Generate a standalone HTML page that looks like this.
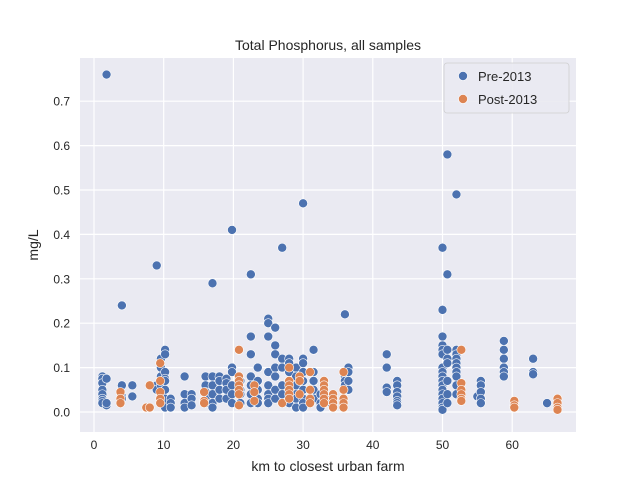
<!DOCTYPE html>
<html><head><meta charset="utf-8"><style>
body{margin:0;background:#fff;}
svg{display:block;font-family:"Liberation Sans","DejaVu Sans",sans-serif;}
</style></head><body>
<svg id="chart" width="640" height="480">
<rect x="80" y="58" width="496" height="374" fill="#eaeaf2"/>
<g id="grid"></g><g id="ticks"></g><g id="marks"></g>
<text x="328" y="50" text-anchor="middle" font-size="14" fill="#262626">Total Phosphorus, all samples</text>
<text x="328" y="471" text-anchor="middle" font-size="14" fill="#262626">km to closest urban farm</text>
<text x="38" y="245" text-anchor="middle" font-size="14" fill="#262626" transform="rotate(-90 38 245)">mg/L</text>
<g>
<rect x="444" y="63" width="125" height="50" rx="3" fill="#eaeaf2" stroke="#cccccc" stroke-width="0.8" opacity="0.9"/>
<circle cx="463" cy="76" r="4.5" fill="#4c72b0" stroke="#fff" stroke-width="0.6"/>
<text x="478" y="81" font-size="13" fill="#262626">Pre-2013</text>
<circle cx="463" cy="99" r="4.5" fill="#dd8452" stroke="#fff" stroke-width="0.6"/>
<text x="478" y="104" font-size="13" fill="#262626">Post-2013</text>
</g>
</svg>
<script>
const xTicks=[0,10,20,30,40,50,60];
const yTicks=[0,0.1,0.2,0.3,0.4,0.5,0.6,0.7];
const yTickLabels=["0.0","0.1","0.2","0.3","0.4","0.5","0.6","0.7"];
const preStations=[1.2,1.8,4,5.5,9,9.6,10.2,11,13,14,16,17,18,19,19.8,21,22.5,23.5,25,26,27,28,29,30,31.5,32.5,34,36,36.5,42,43.5,50,50.7,52,55,55.5,58.8,63,65];
const preValues=[[0.08,0.075,0.065,0.05,0.04,0.03,0.025,0.02],[0.76,0.015,0.02,0.075],[0.24,0.06,0.035,0.03],[0.06,0.035],[0.33,0.06,0.05],[0.12,0.1,0.08,0.06,0.04,0.02],[0.14,0.13,0.09,0.075,0.07,0.05,0.03,0.01],[0.03,0.02,0.01],[0.08,0.04,0.02,0.01],[0.04,0.03,0.015],[0.08,0.06,0.045,0.03,0.02],[0.29,0.08,0.06,0.04,0.02,0.01],[0.08,0.07,0.05,0.03],[0.075,0.065,0.05,0.03],[0.41,0.1,0.09,0.06,0.04,0.02],[0.07,0.05,0.04,0.02],[0.31,0.17,0.13,0.08,0.06,0.04,0.02],[0.1,0.07,0.05,0.03,0.02],[0.21,0.2,0.17,0.09,0.06,0.04,0.03,0.02],[0.19,0.15,0.13,0.1,0.08,0.05,0.03],[0.37,0.12,0.1,0.06,0.04,0.02],[0.12,0.11,0.09,0.07,0.05,0.03,0.02],[0.1,0.08,0.06,0.04,0.03,0.01],[0.47,0.12,0.11,0.09,0.07,0.05,0.03,0.02,0.01],[0.14,0.09,0.07,0.05,0.03],[0.04,0.02,0.01],[0.03,0.02],[0.22,0.09,0.08,0.07,0.06],[0.1,0.09,0.07,0.05],[0.13,0.1,0.055,0.045],[0.07,0.06,0.045,0.035,0.025,0.02,0.015],[0.37,0.23,0.17,0.15,0.14,0.13,0.1,0.09,0.08,0.07,0.06,0.05,0.04,0.03,0.02,0.01,0.005],[0.58,0.31,0.14,0.12,0.11,0.07,0.04,0.02],[0.49,0.14,0.13,0.12,0.11,0.1,0.09,0.08,0.06,0.04],[0.035],[0.07,0.06,0.045,0.03,0.02],[0.16,0.14,0.12,0.1,0.09,0.08],[0.12,0.09,0.085],[0.02]];
const postStations=[3.8,7.5,8,9.5,15.8,20.8,23,27,28,29.5,31,33,34.3,35.8,52.7,60.3,66.5];
const postValues=[[0.045,0.03,0.02],[0.01],[0.06,0.01],[0.11,0.07,0.045,0.03,0.02],[0.045,0.025,0.02],[0.14,0.08,0.07,0.06,0.05,0.04,0.015],[0.06,0.045,0.025],[0.02],[0.1,0.07,0.06,0.05,0.04,0.03],[0.08,0.07,0.04],[0.09,0.05,0.03,0.02],[0.07,0.06,0.05,0.04,0.03,0.02],[0.04,0.03,0.02,0.01],[0.09,0.05,0.03,0.02,0.01],[0.14,0.065,0.05,0.04,0.03,0.025],[0.025,0.015,0.01],[0.03,0.02,0.01,0.005]];
const NS="http://www.w3.org/2000/svg";
function xs(v){return 94+6.97*v;}
function ys(v){return 412-444*v;}
function mk(t,a,p){const e=document.createElementNS(NS,t);for(const k in a)e.setAttribute(k,a[k]);p.appendChild(e);return e;}
const grid=document.getElementById('grid'),ticks=document.getElementById('ticks'),marks=document.getElementById('marks');
xTicks.forEach(t=>{
 const l=mk('line',{x1:xs(t),x2:xs(t),y1:58,y2:432,stroke:'#fff','stroke-width':1.2},grid);
 
 
 const tx=mk('text',{x:xs(t),y:449,'text-anchor':'middle','font-size':12,fill:'#262626'},ticks);
 tx.textContent=t;
 
 
});
yTicks.forEach((t,i)=>{
 const l=mk('line',{x1:80,x2:576,y1:ys(t),y2:ys(t),stroke:'#fff','stroke-width':1.2},grid);
 
 
 const tx=mk('text',{x:70,y:ys(t)+4.5,'text-anchor':'end','font-size':12,fill:'#262626'},ticks);
 tx.textContent=yTickLabels[i];
 
 
});
function draw(st,vals,color,name){
 st.forEach((x,i)=>vals[i].forEach(v=>{
  const c=mk('circle',{cx:xs(x),cy:ys(v),r:4.5,fill:color,stroke:'#fff','stroke-width':0.6},marks);
  
  
 }));
}
draw(preStations,preValues,'#4c72b0','point-pre-2013');
draw(postStations,postValues,'#dd8452','point-post-2013');
</script>
</body></html>
